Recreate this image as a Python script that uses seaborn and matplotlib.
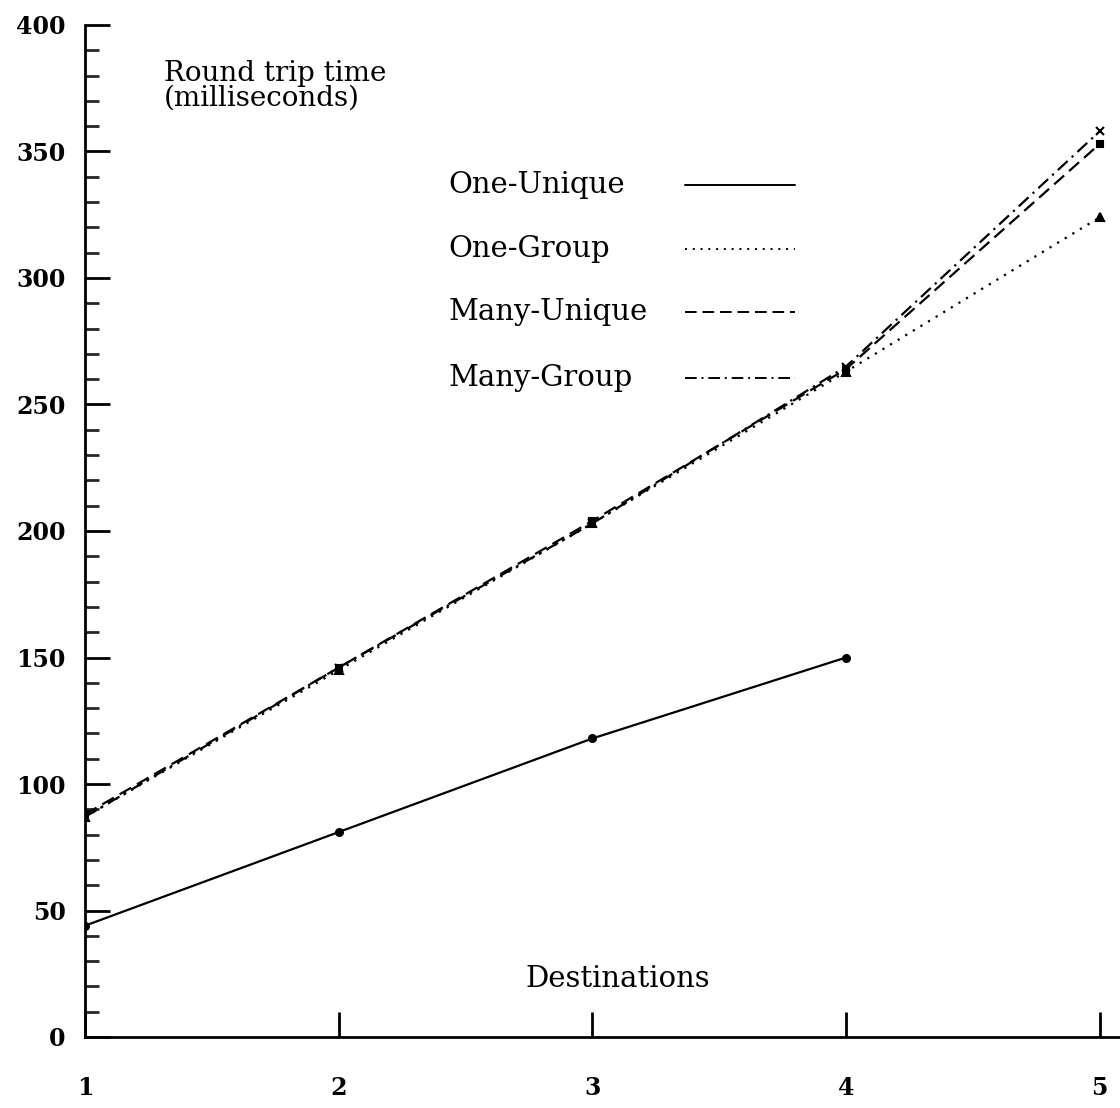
import matplotlib
matplotlib.use("Agg")
import matplotlib.pyplot as plt
from matplotlib.ticker import MultipleLocator
import seaborn as sns
import pandas as pd

destinations = [1, 2, 3, 4, 5]
one_unique = [44, 81, 118, 150, None]
one_group = [87, 145, 203, 263, 324]
many_unique = [88, 146, 204, 264, 353]
many_group = [87, 146, 203, 265, 358]
series_names = ["One-Unique", "One-Group", "Many-Unique", "Many-Group"]

sns.set_theme(style="ticks")
plt.rcParams["font.family"] = ["DejaVu Serif"]

fig = plt.figure(figsize=(11.2, 11.08), dpi=100)
ax = fig.add_axes([85 / 1120, 71 / 1108, 1035 / 1120, 1012 / 1108])

styles = {
    "One-Unique": dict(linestyle="-", marker="o", ms=5),
    "One-Group": dict(linestyle=(0, (1, 3)), marker="^", ms=6),
    "Many-Unique": dict(linestyle=(0, (6, 3)), marker="s", ms=5),
    "Many-Group": dict(linestyle=(0, (6, 2.5, 1, 2.5)), marker="x", ms=6),
}
data = {
    "One-Unique": one_unique,
    "One-Group": one_group,
    "Many-Unique": many_unique,
    "Many-Group": many_group,
}
for name in series_names:
    df = pd.DataFrame({"x": destinations, "y": data[name]}).dropna()
    st = styles[name]
    sns.lineplot(data=df, x="x", y="y", ax=ax, color="black", lw=1.6,
                 linestyle=st["linestyle"], marker=st["marker"], markersize=st["ms"],
                 markeredgecolor="black", markerfacecolor="black", mew=1.5)

ax.set_xlim(1, 5.08)
ax.set_ylim(0, 400)
ax.set_xticks(destinations)
ax.yaxis.set_major_locator(MultipleLocator(50))
ax.yaxis.set_minor_locator(MultipleLocator(10))
ax.set_xlabel("")
ax.set_ylabel("")
sns.despine(ax=ax)
for s in ["left", "bottom"]:
    ax.spines[s].set_linewidth(2)
    ax.spines[s].set_color("black")
ax.tick_params(axis="y", which="major", direction="in", length=18, width=2,
               pad=14, labelsize=17, colors="black")
ax.tick_params(axis="y", which="minor", direction="in", length=10, width=2)
ax.tick_params(axis="x", which="major", direction="in", length=18, width=2,
               pad=28, labelsize=17, colors="black")
for lab in ax.get_xticklabels() + ax.get_yticklabels():
    lab.set_fontweight("bold")

ax.text(0.076, 0.965, "Round trip time\n(milliseconds)", transform=ax.transAxes,
        fontsize=20, va="top", ha="left", linespacing=0.85, color="black")
ax.text(0.515, 0.057, "Destinations", transform=ax.transAxes,
        fontsize=21, va="center", ha="center", color="black")

# legend drawn as label + sample line rows
legend_rows_y = [0.842, 0.779, 0.716, 0.651]
for name, yy in zip(series_names, legend_rows_y):
    ax.text(0.351, yy, name, transform=ax.transAxes, fontsize=21,
            va="center", ha="left", color="black")
    ax.plot([0.580, 0.686], [yy, yy], transform=ax.transAxes, color="black",
            lw=1.4, linestyle=styles[name]["linestyle"], clip_on=False)

fig.savefig("out.png", dpi=100)
